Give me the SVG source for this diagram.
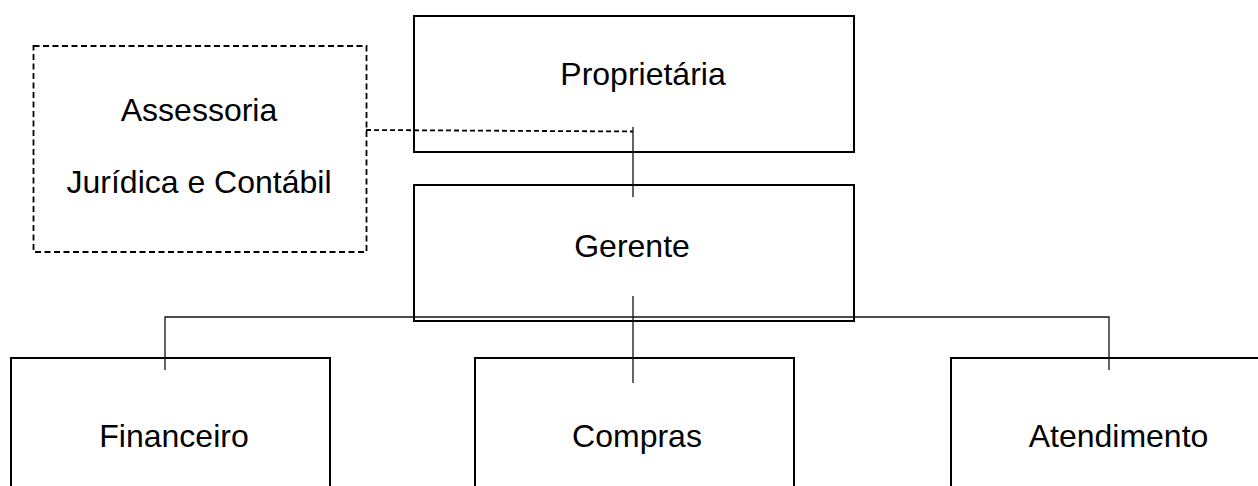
<svg xmlns="http://www.w3.org/2000/svg" width="1258" height="486" viewBox="0 0 1258 486">
<style>
.box{fill:#fff;stroke:#000;stroke-width:2}
.dbox{fill:#fff;stroke:#000;stroke-width:1.8;stroke-dasharray:6,3.5}
.conn{fill:none;stroke:#111;stroke-width:1.3}
.dconn{fill:none;stroke:#000;stroke-width:1.8;stroke-dasharray:5,3}
text{font-family:"Liberation Sans",Arial,sans-serif;font-size:32px;fill:#000;text-anchor:middle}
</style>
<rect width="1258" height="486" fill="#fff"/>
<g id="node-assessoria">
<rect class="dbox" x="33.5" y="46" width="333" height="206"/>
<text x="199" y="121">Assessoria</text>
<text x="199" y="193">Jurídica e Contábil</text>
</g>
<g id="node-proprietaria">
<rect class="box" x="414" y="16" width="440" height="136"/>
<text x="643" y="85">Proprietária</text>
</g>
<g id="node-gerente">
<rect class="box" x="414" y="185" width="440" height="136"/>
<text x="632" y="257">Gerente</text>
</g>
<g id="node-financeiro">
<rect class="box" x="11" y="358" width="319" height="140"/>
<text x="174" y="447">Financeiro</text>
</g>
<g id="node-compras">
<rect class="box" x="475" y="358" width="319" height="140"/>
<text x="637" y="447">Compras</text>
</g>
<g id="node-atendimento">
<rect class="box" x="951" y="358" width="320" height="140"/>
<text x="1118.5" y="447">Atendimento</text>
</g>
<g id="connectors">
<polyline class="dconn" points="367,129 367,130 633,131.5"/>
<line class="conn" x1="633" y1="127" x2="633" y2="197"/>
<line class="conn" x1="633" y1="296" x2="633" y2="383"/>
<polyline class="conn" points="165,370 165,317 1109,317 1109,370"/>
</g>
</svg>
